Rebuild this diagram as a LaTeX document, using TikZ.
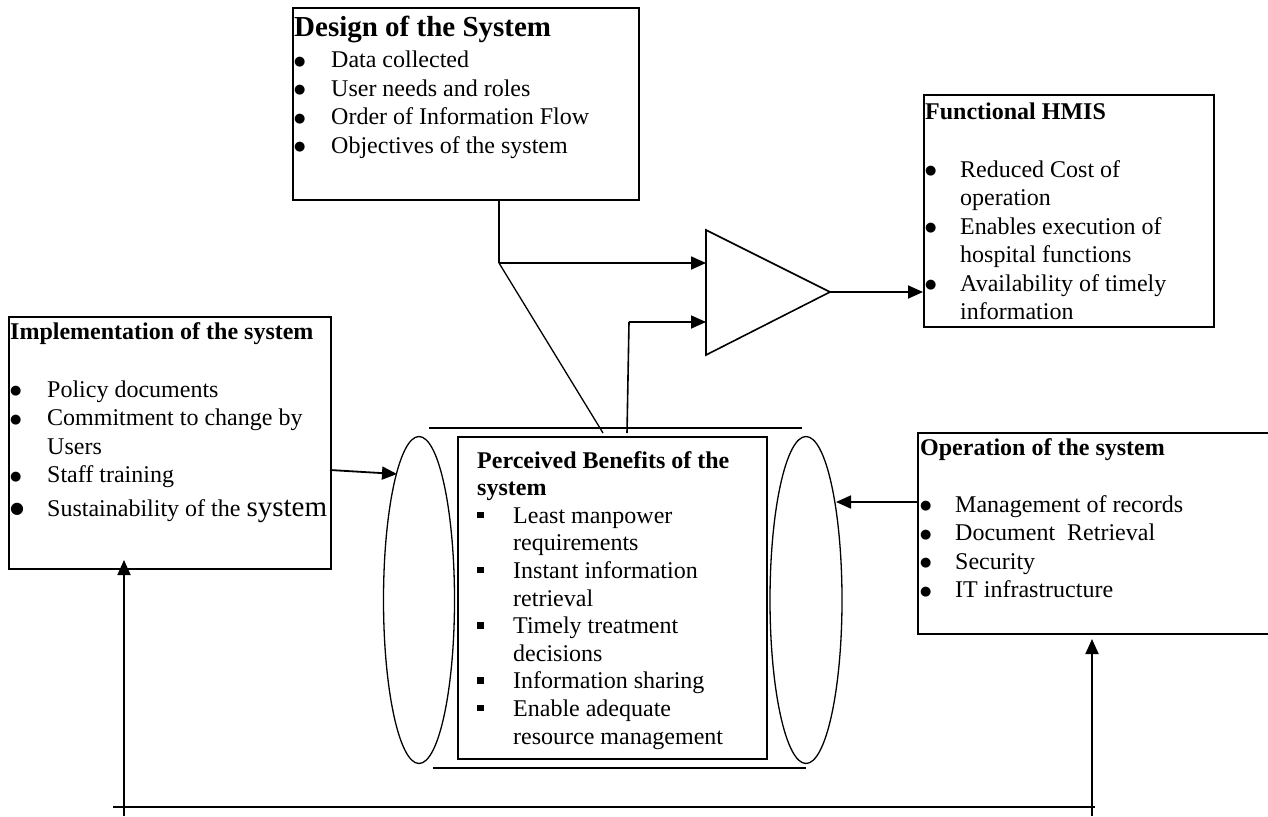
\documentclass[tikz,border=0pt]{standalone}
\usepackage{fontspec}
\setmainfont{Liberation Serif}
\newfontfamily\djv{DejaVu Sans}
\usetikzlibrary{arrows.meta,shapes.geometric}
\newlength\bw
\newcommand\bdot{\raisebox{2.5pt}{\djv\fontsize{13}{13}\selectfont ●}}
\newcommand\itm[1]{\makebox[\bw][l]{\bdot}#1}
\newcommand\cnt[1]{\hspace*{\bw}#1}
\newcommand\sqb{\raisebox{5pt}{\rule{6.5pt}{6.5pt}}}
\newcommand\sitm[1]{\makebox[\bw][l]{\sqb}#1}
\tikzset{
  box/.style={draw, line width=1.8pt, rectangle, inner sep=0pt, anchor=north west},
  txt/.style={inner sep=0pt, anchor=base west, font=\fontsize{24}{28.5}\selectfont},
  ln/.style={line width=1.6pt},
  thin/.style={line width=1.3pt},
  arr/.style={line width=1.8pt, -{Triangle[length=15pt,width=13pt]}},
}
\begin{document}
\begin{tikzpicture}[x=1pt,y=-1pt]
\useasboundingbox (0,0) rectangle (1268,816);
% boxes
\node[box, minimum width=346pt, minimum height=192pt] (ds) at (292,7) {};
\node[box, minimum width=290pt, minimum height=232pt] (fn) at (923,94) {};
\node[box, minimum width=322pt, minimum height=252pt] (im) at (8,316) {};
\node[box, minimum width=360pt, minimum height=201pt] (op) at (917,432) {};
\node[box, minimum width=309pt, minimum height=322pt] (pb) at (457,436) {};
% ellipses
\node[draw, thin, ellipse, minimum width=71pt, minimum height=327pt, inner sep=0pt] (le) at (419,600) {};
\node[draw, thin, ellipse, minimum width=72pt, minimum height=327pt, inner sep=0pt] (re) at (806,600) {};
% cylinder lines
\coordinate (ct1) at (429,428); \coordinate (ct2) at (802,428);
\coordinate (cb1) at (433,768); \coordinate (cb2) at (806,768);
\draw[ln] (ct1) -- (ct2);
\draw[ln] (cb1) -- (cb2);
% texts
\node[txt] (dst) at (294,37) {\setlength\bw{37pt}\begin{tabular}[t]{@{}l@{}}
{\fontsize{29}{31}\selectfont\bfseries Design of the System}\\[2.5pt]
\itm{Data collected}\\
\itm{User needs and roles}\\
\itm{Order of Information Flow}\\
\itm{Objectives of the system}
\end{tabular}};
\node[txt] (fnt) at (925,119) {\setlength\bw{35pt}\begin{tabular}[t]{@{}l@{}}
\textbf{Functional HMIS}\\[1pt]
\\
\itm{Reduced Cost of}\\
\cnt{operation}\\
\itm{Enables execution of}\\
\cnt{hospital functions}\\
\itm{Availability of timely}\\
\cnt{information}
\end{tabular}};
\node[txt] (imt) at (10,339) {\setlength\bw{37pt}\begin{tabular}[t]{@{}l@{}}
\textbf{Implementation of the system}\\[1pt]
\\
\itm{Policy documents}\\
\itm{Commitment to change by}\\
\cnt{Users}\\
\itm{Staff training}\\[5pt]
\makebox[\bw][l]{\raisebox{3pt}{\djv\fontsize{16}{16}\selectfont ●}}Sustainability of the {\fontsize{29}{31}\selectfont system}
\end{tabular}};
\node[txt] (opt) at (920,455) {\setlength\bw{35pt}\begin{tabular}[t]{@{}l@{}}
\textbf{Operation of the system}\\
\\
\itm{Management of records}\\
\itm{Document\ \ Retrieval}\\
\itm{Security}\\
\itm{IT infrastructure}
\end{tabular}};
\node[txt, font=\fontsize{24}{27.6}\selectfont] (pbt) at (477,468) {\setlength\bw{36pt}\begin{tabular}[t]{@{}l@{}}
\textbf{Perceived Benefits of the}\\
\textbf{system}\\
\sitm{Least manpower}\\
\cnt{requirements}\\
\sitm{Instant information}\\
\cnt{retrieval}\\
\sitm{Timely treatment}\\
\cnt{decisions}\\
\sitm{Information sharing}\\
\sitm{Enable adequate}\\
\cnt{resource management}
\end{tabular}};
% triangle
\coordinate (t1) at (706,230); \coordinate (t2) at (706,355); \coordinate (t3) at (830,292);
\draw[ln, line join=miter] (t1) -- (t2) -- (t3) -- cycle;
% junctions
\coordinate (j1) at (499,263);
\coordinate (j2) at (629,322);
\coordinate (d1) at (603,433);
\coordinate (d2) at (627,433);
\draw[ln] (ds.south -| j1) -- (j1);
\draw[arr] (j1) -- (j1 -| t1);
\draw[thin] (j1) -- (d1);
\draw[ln] (d2) -- (j2);
\draw[arr] (j2) -- (j2 -| t1);
\draw[arr] (t3) -- (t3 -| fn.west);
% side arrows
\coordinate (ia) at (330,470); \coordinate (ib) at (397,474);
\draw[arr] (ia) -- (ib);
\coordinate (oa) at (917,502); \coordinate (ob) at (836,502);
\draw[arr] (oa) -- (ob);
% feedback loop
\coordinate (f1) at (113,807); \coordinate (f2) at (1095,807);
\coordinate (fl) at (124,816); \coordinate (fr) at (1092,816);
\draw[ln] (f1) -- (f2);
\draw[arr] (fl) -- (fl |- 0,560);
\draw[arr] (fr) -- (fr |- 0,639);
\end{tikzpicture}
\end{document}
